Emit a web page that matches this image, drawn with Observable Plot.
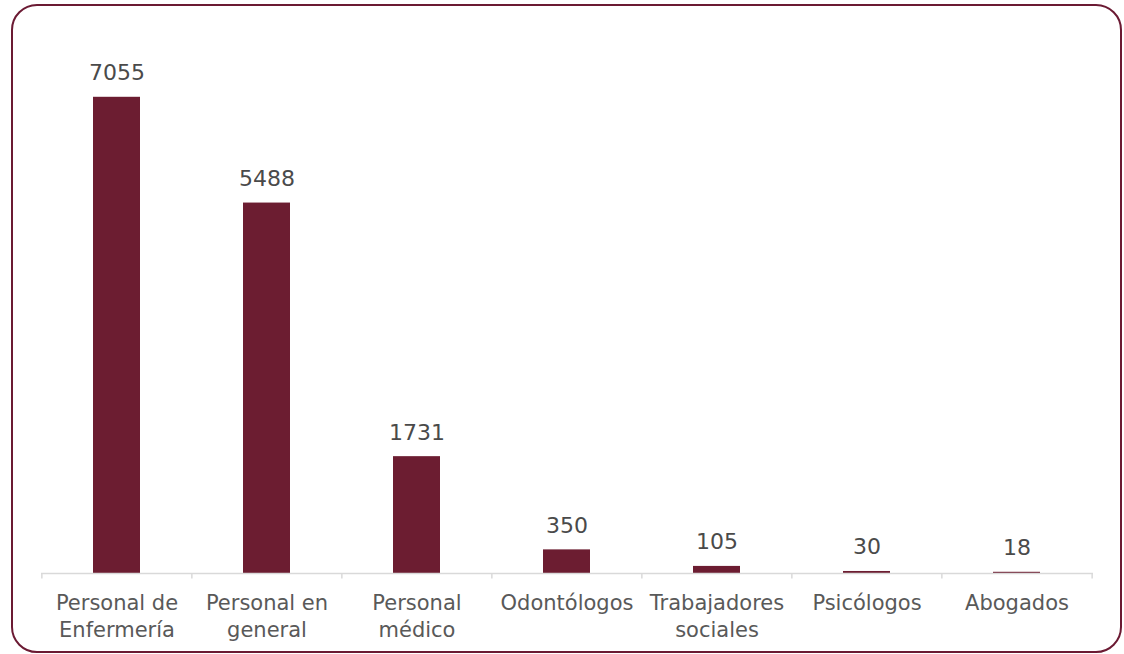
<!DOCTYPE html>
<html><head><meta charset="utf-8">
<script src="https://cdn.jsdelivr.net/npm/d3@7"></script>
<script src="https://cdn.jsdelivr.net/npm/@observablehq/plot@0.6"></script>
<style>
html,body{margin:0;padding:0;background:#fff;overflow:hidden;}
#wrap{position:relative;width:1124px;height:654px;}
#frame{position:absolute;left:11px;top:4px;width:1111px;height:649px;border:2px solid #6B1A33;border-radius:26px;box-sizing:border-box;pointer-events:none;}
#chart{position:absolute;left:0;top:0;}
</style></head>
<body>
<div id="wrap"><div id="chart"></div><div id="frame"></div></div>
<script>
const categories = ["Personal de\nEnfermería","Personal en\ngeneral","Personal\nmédico","Odontólogos","Trabajadores\nsociales","Psicólogos","Abogados"];
const values = [7055, 5488, 1731, 350, 105, 30, 18];

const data = categories.map((c, i) => ({category: c, value: values[i]}));
const W = 1124, H = 654, mL = 41, mR = 31;
const step = (W - mL - mR) / categories.length;
const boundaries = categories.map((c) => ({category: c, dx: -step / 2}))
  .concat([{category: categories[categories.length - 1], dx: step / 2}]);

const chart = Plot.plot({
  width: W, height: H,
  marginLeft: mL, marginRight: mR, marginTop: 33, marginBottom: H - 573,
  style: {fontFamily: "DejaVu Sans, sans-serif", background: "transparent"},
  x: {domain: categories, paddingInner: 0.685, paddingOuter: 0.3425, label: null},
  y: {domain: [0, 8000], axis: null},
  marks: [
    Plot.barY(data, {x: "category", y: "value", fill: "#6C1D31"}),
    Plot.ruleY([0], {stroke: "#D9D9D9", strokeWidth: 1.5}),
    ...boundaries.map(b => Plot.ruleX([b], {x: "category", dx: b.dx, y1: 0, y2: -80, stroke: "#D9D9D9", strokeWidth: 1.5})),
    Plot.text(data, {x: "category", y: "value", text: d => String(d.value), dy: -17, lineAnchor: "bottom", fontSize: 22, fill: "#4A4A4A"}),
    Plot.axisX({tickSize: 0, tickPadding: 18, fontSize: 21, lineHeight: 1.26, fill: "#595959", label: null})
  ]
});
document.getElementById("chart").appendChild(chart);
</script>
</body></html>
